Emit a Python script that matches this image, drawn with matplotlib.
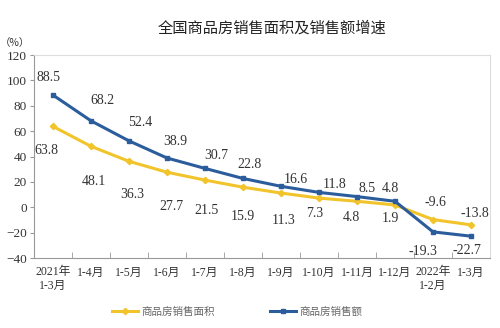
import matplotlib
matplotlib.use("Agg")
from matplotlib import pyplot as plt

# 数据
periods = ["2021年\n1-3月", "1-4月", "1-5月", "1-6月", "1-7月", "1-8月", "1-9月",
           "1-10月", "1-11月", "1-12月", "2022年\n1-2月", "1-3月"]
area = [63.8, 48.1, 36.3, 27.7, 21.5, 15.9, 11.3, 7.3, 4.8, 1.9, -9.6, -13.8]
sales = [88.5, 68.2, 52.4, 38.9, 30.7, 22.8, 16.6, 11.8, 8.5, 4.8, -19.3, -22.7]

# 标签偏移 (points)
area_off = [(-5, -17), (2, -25), (2, -24), (3, -25), (1, -22), (0, -21),
            (2, -20), (-3, -11), (-4, -12), (-3, -10), (2, 12), (3, 8)]
sales_off = [(-3, 13), (8, 15), (8, 13), (6, 12), (8, 9), (5, 10),
             (11, 5), (11, 6), (7, 6), (-3, 9), (-7, -14), (-3, -10)]

fam = ["Liberation Serif", "Noto Sans CJK SC"]
plt.rcParams["font.family"] = fam

yellow = "#F2C42C"
blue = "#2B5C9C"

fig = plt.figure(figsize=(5, 3.28), dpi=100)
ax = fig.add_axes([0.068, 0.213, 0.912, 0.619])
x = list(range(len(periods)))

ax.plot(x, area, color=yellow, lw=2.2, marker="D", ms=3.2, label="商品房销售面积")
ax.plot(x, sales, color=blue, lw=2.2, marker="s", ms=3.2, label="商品房销售额")

for i in x:
    ax.annotate(f"{area[i]}", (i, area[i]), xytext=area_off[i], textcoords="offset points",
                ha="center", va="center", fontsize=10, color="#333333")
    ax.annotate(f"{sales[i]}", (i, sales[i]), xytext=sales_off[i], textcoords="offset points",
                ha="center", va="center", fontsize=10, color="#333333")

ax.set_xlim(-0.5, len(periods) - 0.5)
ax.set_ylim(-40, 120)
ax.set_yticks(range(-40, 121, 20))
ax.set_xticks(x)
ax.set_xticklabels(periods, fontsize=8.5, color="#333333")
ax.set_xticks([i + 0.5 for i in x[:-1]], minor=True)
ax.tick_params(axis="x", which="major", length=0, pad=6)
ax.tick_params(axis="x", which="minor", direction="in", length=4, color="#999999")
ax.tick_params(axis="y", direction="out", length=3, color="#999999", labelsize=9.5,
               labelcolor="#333333", pad=2)
for s in ["left", "bottom"]:
    ax.spines[s].set_color("#999999")
for s in ["top", "right"]:
    ax.spines[s].set_color("#dddddd")

fig.text(0.545, 0.915, "全国商品房销售面积及销售额增速", ha="center", va="center",
         fontsize=11, family="Noto Sans CJK SC", color="#222222")
fig.text(0.0, 0.868, "（%）", ha="left", va="center", fontsize=7.5,
         family="Noto Sans CJK SC", color="#333333")

fig.legend(loc="center", bbox_to_anchor=(0.475, 0.05), ncol=2, frameon=False,
           fontsize=7.6, handlelength=2.4, handletextpad=0.4, columnspacing=5.2,
           labelcolor="#666666")

fig.savefig("out.png", dpi=100)
